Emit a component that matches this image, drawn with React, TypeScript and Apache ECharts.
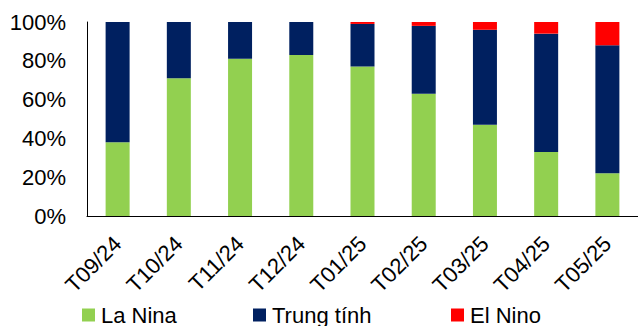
import React, { useEffect, useRef } from "react";
import * as echarts from "echarts";

const categories = ["T09/24", "T10/24", "T11/24", "T12/24", "T01/25", "T02/25", "T03/25", "T04/25", "T05/25"];
const laNina = [38, 71, 81, 83, 77, 63, 47, 33, 22];
const elNino = [0, 0, 0, 0, 1, 2, 4, 6, 12];
const trungTinh = laNina.map((v, i) => 100 - v - elNino[i]);
const yTicks = [0, 20, 40, 60, 80, 100];
const seriesNames = ["La Nina", "Trung tính", "El Nino"];
const seriesColors = ["#92D050", "#002060", "#FF0000"];
const legendLefts = [82, 253, 451];

export default function App() {
  const ref = useRef<HTMLDivElement>(null);
  useEffect(() => {
    const chart = echarts.init(ref.current!, null, { renderer: "svg" });
    const font = "Liberation Sans, Arial, sans-serif";
    chart.setOption({
      animation: false,
      grid: { left: 87, top: 22, width: 553, bottom: 110 },
      legend: seriesNames.map((n, i) => ({
        left: legendLefts[i],
        top: 304,
        padding: 0,
        itemWidth: 13,
        itemHeight: 13,
        itemGap: 6,
        icon: "rect",
        textStyle: { fontSize: 22, color: "#000", fontFamily: font, padding: [0, 0, 0, 1] },
        data: [n],
      })),
      xAxis: {
        type: "category",
        data: categories,
        axisLine: { lineStyle: { color: "#000", width: 1 } },
        axisTick: { show: false },
        axisLabel: { rotate: 45, fontSize: 22, color: "#000", fontFamily: font, margin: 24, interval: 0 },
      },
      yAxis: {
        type: "value",
        min: yTicks[0],
        max: yTicks[yTicks.length - 1],
        interval: 20,
        splitLine: { show: false },
        axisLine: { show: true, lineStyle: { color: "#000", width: 1 } },
        axisTick: { show: false },
        axisLabel: { fontSize: 22, color: "#000", fontFamily: font, margin: 21, formatter: "{value}%" },
      },
      series: [
        { name: seriesNames[0], type: "bar", stack: "a", data: laNina, barWidth: 24, itemStyle: { color: seriesColors[0] } },
        { name: seriesNames[1], type: "bar", stack: "a", data: trungTinh, barWidth: 24, itemStyle: { color: seriesColors[1] } },
        { name: seriesNames[2], type: "bar", stack: "a", data: elNino, barWidth: 24, itemStyle: { color: seriesColors[2] } },
      ],
    });
    return () => chart.dispose();
  }, []);
  return <div ref={ref} style={{ width: 638, height: 326, position: "absolute", left: 0, top: 0 }} />;
}
